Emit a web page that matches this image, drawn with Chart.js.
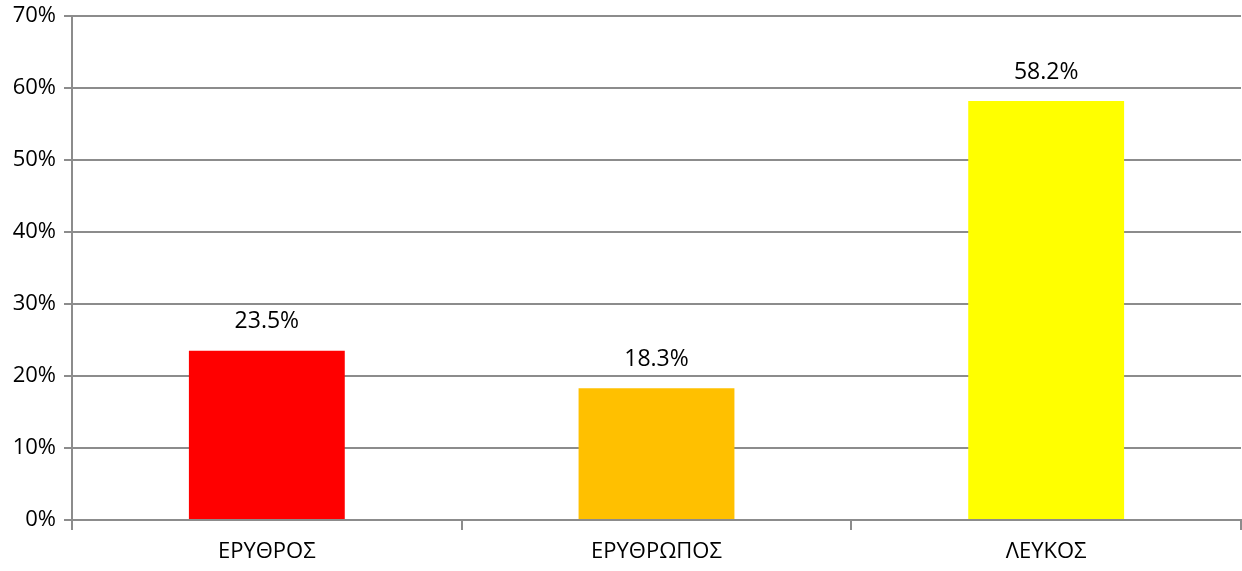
<!DOCTYPE html>
<html>
<head>
<meta charset="utf-8">
<script src="https://cdn.jsdelivr.net/npm/chart.js@4/dist/chart.umd.min.js"></script>
<style>
  html, body { margin: 0; padding: 0; background: #fff; }
  #wrap { width: 1242px; height: 571px; }
</style>
</head>
<body>
<div id="wrap"><canvas id="myChart"></canvas></div>
<script>
// data
var categories = ['ΕΡΥΘΡΟΣ', 'ΕΡΥΘΡΩΠΟΣ', 'ΛΕΥΚΟΣ'];
var shares = [0.235, 0.183, 0.582];
var barColors = ['#FF0000', '#FFC000', '#FFFF00'];
var yTicks = [0, 0.1, 0.2, 0.3, 0.4, 0.5, 0.6, 0.7];

var fontFamily = "'Open Sans', 'DejaVu Sans', sans-serif";
var gridGrey = '#8c8c8c';

// labels above bars
var valueLabels = {
    id: 'valueLabels',
    afterDatasetsDraw: function (chart) {
        var ctx = chart.ctx;
        var meta = chart.getDatasetMeta(0);
        ctx.save();
        ctx.font = '23px ' + fontFamily;
        ctx.fillStyle = '#000';
        ctx.textAlign = 'center';
        ctx.textBaseline = 'middle';
        meta.data.forEach(function (bar, i) {
            ctx.fillText((shares[i] * 100).toFixed(1) + '%', bar.x, bar.y - 29);
        });
        ctx.restore();
    }
};

var area = document.getElementById('myChart');
new Chart(area, {
    type: 'bar',
    data: {
        labels: categories,
        datasets: [{
            data: shares,
            backgroundColor: barColors,
            borderWidth: 0,
            categoryPercentage: 1,
            barPercentage: 0.4
        }]
    },
    options: {
        responsive: true,
        maintainAspectRatio: false,
        animation: false,
        layout: { padding: { top: 0, right: 1, bottom: 0, left: 0 } },
        plugins: {
            legend: { display: false },
            tooltip: { enabled: false }
        },
        scales: {
            y: {
                min: 0,
                max: 0.7,
                afterBuildTicks: function (axis) {
                    axis.ticks = yTicks.map(function (v) { return { value: v }; });
                },
                afterFit: function (axis) { axis.width = 72; axis.paddingTop = 16; },
                ticks: {
                    color: '#000',
                    font: { family: fontFamily, size: 22 },
                    padding: 8,
                    callback: function (v) { return Math.round(v * 100) + '%'; }
                },
                grid: { color: gridGrey, lineWidth: 2, tickLength: 8 },
                border: { color: gridGrey, width: 2 }
            },
            x: {
                afterFit: function (axis) { axis.height = 51; },
                ticks: {
                    color: '#000',
                    font: { family: fontFamily, size: 22 },
                    padding: 9
                },
                grid: { offset: true, drawOnChartArea: false, color: gridGrey, lineWidth: 2, tickLength: 10 },
                border: { color: gridGrey, width: 2 }
            }
        }
    },
    plugins: [valueLabels]
});
</script>
</body>
</html>
